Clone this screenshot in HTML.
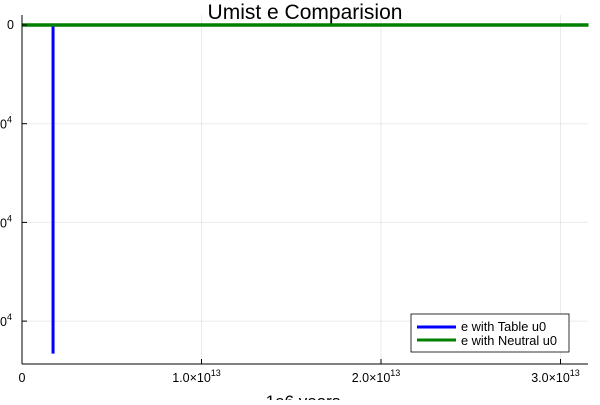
<!DOCTYPE html>
<html><head><meta charset="utf-8"><style>
body{margin:0;background:#fff;font-family:"Liberation Sans",sans-serif}
svg text{font-family:"Liberation Sans",sans-serif}
</style></head><body>
<svg id="chart" width="600" height="400" xmlns="http://www.w3.org/2000/svg">
<text x="305" y="19" font-size="21" text-anchor="middle">Umist e Comparision</text>
<g id="grid"></g>
<g id="series"></g>
<line x1="22" y1="364" x2="588" y2="364" stroke="#000" stroke-width="1"/>
<line x1="22" y1="15" x2="22" y2="364" stroke="#000" stroke-width="1"/>
<g id="ticks"></g>
<text x="303" y="407" font-size="17" text-anchor="middle">1e6 years</text>
<g>
<rect x="411" y="314" width="158" height="38" fill="#fff" stroke="#000" stroke-width="0.8"/>
<line x1="417" y1="327" x2="456" y2="327" stroke="#0000ff" stroke-width="3"/>
<text x="461" y="331" font-size="12.8">e with Table u0</text>
<line x1="417" y1="340" x2="456" y2="340" stroke="#008000" stroke-width="3"/>
<text x="461" y="345" font-size="12.8">e with Neutral u0</text>
</g>
</svg>
<script>
const xTicks=[0,1e13,2e13,3e13];
const xTickLabels=["0","1.0×10","2.0×10","3.0×10"];
const yTicks=[0,-1e4,-2e4,-3e4];
const yTickLabels=["0","0","0","0"];
const tableX=[1.73e12,1.73e12];
const tableY=[0,-3.33e4];
const neutralX=[0,3.156e13];
const neutralY=[0,0];
const sx=v=>22+v*179.5/1e13;
const sy=v=>25-v*98.7/1e4;
const NS="http://www.w3.org/2000/svg";
function mk(tag,attrs,parent){const e=document.createElementNS(NS,tag);for(const k in attrs)e.setAttribute(k,attrs[k]);document.getElementById(parent).appendChild(e);return e;}
xTicks.forEach((t,i)=>{
 const g=mk('line',{x1:sx(t),y1:15,x2:sx(t),y2:364,stroke:'#000','stroke-opacity':0.08},'grid');
 
 
 const tk=mk('line',{x1:sx(t),y1:364,x2:sx(t),y2:359,stroke:'#000'},'ticks');
 
 
 const tx=mk('text',{x:sx(t)+(i?-5:0),y:382,'font-size':12.5,'text-anchor':'middle'},'ticks');
 
 
 tx.textContent=xTickLabels[i];
 if(i){const s=mk('tspan',{dy:-6,'font-size':9},'ticks');tx.appendChild(s);s.textContent='13';}
});
yTicks.forEach((t,i)=>{
 const g=mk('line',{x1:22,y1:sy(t),x2:588,y2:sy(t),stroke:'#000','stroke-opacity':0.08},'grid');
 
 
 const tk=mk('line',{x1:22,y1:sy(t),x2:27,y2:sy(t),stroke:'#000'},'ticks');
 
 
 const tx=mk('text',{x:i?0:7,y:sy(t)+(i?5:4),'font-size':12.5},'ticks');
 
 
 tx.textContent=yTickLabels[i];
 if(i){const s=mk('tspan',{dy:-6,'font-size':9},'ticks');tx.appendChild(s);s.textContent='4';}
});
function path(xs,ys){return xs.map((x,i)=>(i?'L':'M')+sx(x)+','+sy(ys[i])).join(' ');}
const p1=mk('path',{d:path(tableX,tableY),stroke:'#0000ff','stroke-width':3,fill:'none'},'series');


const p2=mk('path',{d:path(neutralX,neutralY),stroke:'#008000','stroke-width':3.5,fill:'none'},'series');


</script>
</body></html>
